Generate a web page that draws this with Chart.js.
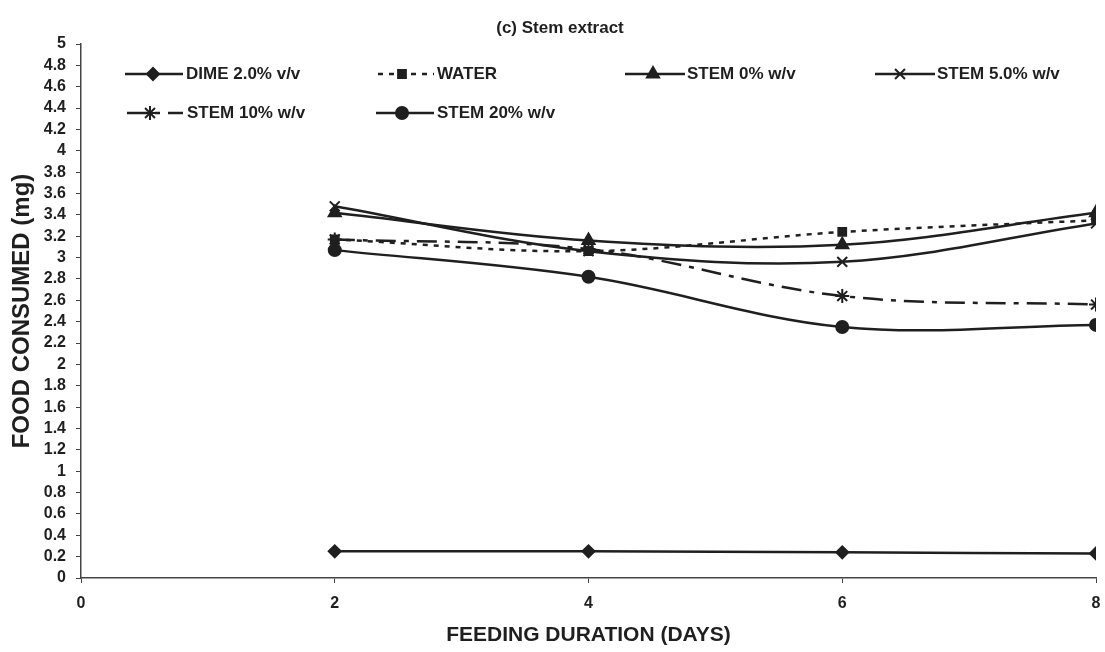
<!DOCTYPE html>
<html>
<head>
<meta charset="utf-8">
<title>Stem extract</title>
<script src="https://cdn.jsdelivr.net/npm/chart.js@4.4.1/dist/chart.umd.min.js"></script>
<style>
    html, body { margin: 0; padding: 0; background: #fff; }
    #wrap { width: 1105px; height: 652px; }
</style>
</head>
<body>
<div id="wrap"><canvas id="lineChart"></canvas></div>
<script>
// Feeding duration (days) and food consumed (mg) per treatment
const days = [2, 4, 6, 8];
const dime = [0.25, 0.25, 0.24, 0.23];
const water = [3.17, 3.06, 3.24, 3.35];
const stem0 = [3.42, 3.16, 3.12, 3.42];
const stem5 = [3.48, 3.06, 2.96, 3.32];
const stem10 = [3.17, 3.08, 2.64, 2.56];
const stem20 = [3.07, 2.82, 2.35, 2.37];
const seriesLabels = ["DIME 2.0% v/v", "WATER", "STEM 0% w/v", "STEM 5.0% w/v", "STEM 10% w/v", "STEM 20% w/v"];

const INK = "#1f1f1f";
const FONT = "'Liberation Sans', Arial, sans-serif";

// Legend spots (sample line start/end, marker x, text x, row y)
const legendSpots = [
    { x1: 125, x2: 183, px: 153, tx: 186, y: 74 },
    { x1: 378, x2: 434, px: 402, tx: 437, y: 74 },
    { x1: 625, x2: 685, px: 653, tx: 687, y: 74 },
    { x1: 875, x2: 935, px: 900, tx: 937, y: 74 },
    { x1: 127, x2: 183, px: 150, tx: 187, y: 113 },
    { x1: 376, x2: 434, px: 402, tx: 437, y: 113 },
];

function toPoints(values) {
    return values.map((v, i) => ({ x: days[i], y: v }));
}

function makeSet(label, values, pointStyle, radius, dash) {
    return {
        label: label,
        data: toPoints(values),
        borderColor: INK,
        backgroundColor: INK,
        borderWidth: 2.5,
        borderDash: dash,
        pointStyle: pointStyle,
        pointRadius: radius,
        pointBorderWidth: 2,
        pointBackgroundColor: INK,
        pointBorderColor: INK,
        tension: 0.35,
        fill: false,
    };
}

const datasets = [
    makeSet(seriesLabels[0], dime, "rectRot", 6, []),
    makeSet(seriesLabels[1], water, "rect", 5.5, [5, 6]),
    makeSet(seriesLabels[2], stem0, "triangle", 7, []),
    makeSet(seriesLabels[3], stem5, "crossRot", 7, []),
    makeSet(seriesLabels[4], stem10, "star", 7, [20, 8, 5, 8]),
    makeSet(seriesLabels[5], stem20, "circle", 6, []),
];

// Title and legend drawn inside the plot, like the original
const overlayPlugin = {
    id: "overlay",
    afterDraw(chart) {
        const ctx = chart.ctx;
        ctx.save();
        ctx.fillStyle = INK;
        ctx.font = "bold 17px " + FONT;
        ctx.textAlign = "center";
        ctx.textBaseline = "middle";
        ctx.fillText("(c) Stem extract", 560, 28);

        ctx.textAlign = "left";
        ctx.font = "bold 17px " + FONT;
        chart.data.datasets.forEach((ds, i) => {
            const s = legendSpots[i];
            ctx.strokeStyle = INK;
            ctx.fillStyle = INK;
            ctx.lineWidth = 2.5;
            ctx.setLineDash(ds.borderDash || []);
            ctx.beginPath();
            ctx.moveTo(s.x1, s.y);
            ctx.lineTo(s.x2, s.y);
            ctx.stroke();
            ctx.setLineDash([]);
            ctx.lineWidth = 2;
            Chart.helpers.drawPoint(ctx, {
                pointStyle: ds.pointStyle,
                radius: ds.pointRadius,
                rotation: 0,
                borderWidth: 2,
            }, s.px, s.y);
            ctx.fillStyle = INK;
            ctx.fillText(ds.label, s.tx, s.y);
        });
        ctx.restore();
    },
};

const chart = new Chart(document.getElementById("lineChart"), {
    type: "line",
    data: { datasets: datasets },
    options: {
        responsive: true,
        maintainAspectRatio: false,
        animation: false,
        layout: { padding: { top: 44, right: 0, left: 0, bottom: 0 } },
        plugins: {
            legend: { display: false },
            title: { display: false },
            tooltip: { enabled: false },
        },
        scales: {
            x: {
                type: "linear",
                min: 0,
                max: 8,
                afterFit: (scale) => {
                    scale.height = 74;
                    scale.paddingRight = 8;
                },
                ticks: {
                    stepSize: 2,
                    color: INK,
                    padding: 11,
                    autoSkip: false,
                    font: { family: FONT, size: 16, weight: "bold" },
                },
                grid: { drawOnChartArea: false, tickLength: 5, color: "#444" },
                border: { color: "#444", width: 1.5 },
                title: {
                    display: true,
                    text: "FEEDING DURATION (DAYS)",
                    color: INK,
                    padding: { top: 4, bottom: 4 },
                    font: { family: FONT, size: 21, weight: "bold" },
                },
            },
            y: {
                min: 0,
                max: 5,
                afterFit: (scale) => { scale.width = 81; },
                ticks: {
                    stepSize: 0.2,
                    color: INK,
                    padding: 10,
                    autoSkip: false,
                    font: { family: FONT, size: 16, weight: "bold" },
                    callback: (v) => String(Number(v.toFixed(1))),
                },
                grid: { drawOnChartArea: false, tickLength: 5, color: "#444" },
                border: { color: "#444", width: 1.5 },
                title: {
                    display: true,
                    text: "FOOD CONSUMED (mg)",
                    color: INK,
                    padding: { top: 8, bottom: 4 },
                    font: { family: FONT, size: 24, weight: "bold" },
                },
            },
        },
    },
    plugins: [overlayPlugin],
});
</script>
</body>
</html>
